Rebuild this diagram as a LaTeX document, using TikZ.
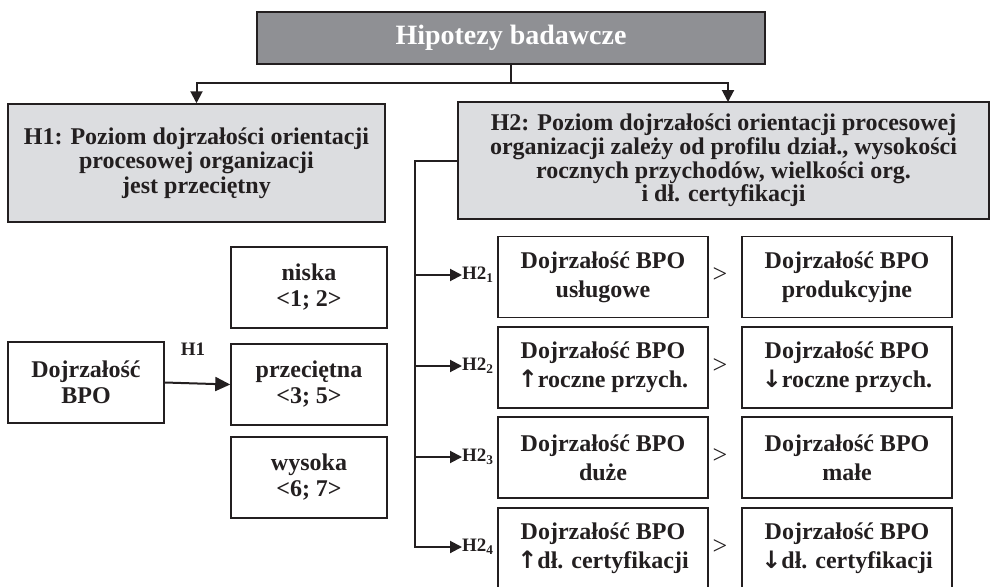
\documentclass[tikz,border=0pt]{standalone}
\usepackage{fontspec}
\setmainfont{Liberation Serif}
\newfontfamily\arrowfont{DejaVu Sans}
\usetikzlibrary{arrows.meta}
\definecolor{ink}{HTML}{231F20}
\definecolor{darkfill}{HTML}{8F9094}
\definecolor{lightfill}{HTML}{DCDDE0}
\newcommand{\upar}{{\arrowfont\bfseries\fontsize{24}{28}\selectfont ↑}}
\newcommand{\downar}{{\arrowfont\bfseries\fontsize{24}{28}\selectfont ↓}}
\begin{document}
\begin{tikzpicture}[x=1pt,y=-1pt,
  basebox/.style={draw=ink,line width=1.5pt,align=center,text=ink,inner sep=0pt,
    font=\fontsize{24}{29}\selectfont\bfseries},
  titlebox/.style={basebox,fill=darkfill,text=white,minimum width=508pt,minimum height=52pt,
    font=\fontsize{28}{30}\selectfont\bfseries},
  hypbox/.style={basebox,fill=lightfill,font=\fontsize{24}{24.5}\selectfont\bfseries},
  levelbox/.style={basebox,minimum width=156pt,minimum height=81pt,
    font=\fontsize{24}{26}\selectfont\bfseries},
  cmpbox/.style={basebox,minimum width=210pt,minimum height=81pt},
  hlabel/.style={text=ink,inner sep=0pt,font=\fontsize{19}{20}\selectfont\bfseries},
  gtlabel/.style={text=ink,inner sep=0pt,font=\fontsize{26}{28}\selectfont},
  conn/.style={draw=ink,line width=2pt},
  tipS/.style={-{Triangle[length=12pt,width=12pt]}},
  tipL/.style={-{Triangle[length=15pt,width=14pt]}}
]
\useasboundingbox (0,0) rectangle (990,586);

% title and hypotheses
\node[titlebox] (top) at (511,38) {Hipotezy badawcze};
\node[hypbox,minimum width=377pt,minimum height=118pt] (h1) at (196.5,163)
  {H1: Poziom dojrzałości orientacji\\procesowej organizacji\\jest przeciętny};
\node[hypbox,minimum width=531pt,minimum height=117pt,font=\fontsize{24}{23.5}\selectfont\bfseries] (h2) at (723.5,160.5)
  {H2: Poziom dojrzałości orientacji procesowej\\organizacji zależy od profilu dział., wysokości\\rocznych przychodów, wielkości org.\\i dł. certyfikacji};

\coordinate (jn) at (511,83);
\coordinate (h2in) at (728,102);
\draw[conn] (top.south) -- (jn);
\draw[conn,tipS] (jn) -| (h1.north);
\draw[conn,tipS] (jn) -| (h2in);

% left part
\node[levelbox] (dojr) at (86,382.5) {Dojrzałość\\BPO};
\node[levelbox] (niska) at (309,287.5) {niska\\<1; 2>};
\node[levelbox] (przec) at (309,384.5) {przeciętna\\<3; 5>};
\node[levelbox] (wys) at (309,477.5) {wysoka\\<6; 7>};
\draw[conn,tipL] (dojr.east) -- (przec.west);
\node[hlabel] (h1lab) at (193,349) {H1};

% right part: comparison rows
\node[cmpbox] (l1) at (603,277) {Dojrzałość BPO\\usługowe};
\node[cmpbox] (r1) at (847,277) {Dojrzałość BPO\\produkcyjne};
\node[cmpbox] (l2) at (603,367.5) {Dojrzałość BPO\\\upar{}roczne przych.};
\node[cmpbox] (r2) at (847,367.5) {Dojrzałość BPO\\\downar{}roczne przych.};
\node[cmpbox] (l3) at (603,457.5) {Dojrzałość BPO\\duże};
\node[cmpbox] (r3) at (847,457.5) {Dojrzałość BPO\\małe};
\node[cmpbox] (l4) at (603,548.5) {Dojrzałość BPO\\\upar{}dł. certyfikacji};
\node[cmpbox] (r4) at (847,548.5) {Dojrzałość BPO\\\downar{}dł. certyfikacji};

\node[gtlabel] (g1) at (720,275) {>};
\node[gtlabel] (g2) at (720,366) {>};
\node[gtlabel] (g3) at (720,456) {>};
\node[gtlabel] (g4) at (720,547) {>};

\node[hlabel,anchor=west] (lab1) at (462,275) {H2\textsubscript{1}};
\node[hlabel,anchor=west] (lab2) at (462,366) {H2\textsubscript{2}};
\node[hlabel,anchor=west] (lab3) at (462,457) {H2\textsubscript{3}};
\node[hlabel,anchor=west] (lab4) at (462,547) {H2\textsubscript{4}};

\coordinate (bus) at (415,547);
\draw[conn,tipS] (h2.west) -| (bus) -- (lab4.west);
\draw[conn,tipS] (bus |- lab1.west) -- (lab1.west);
\draw[conn,tipS] (bus |- lab2.west) -- (lab2.west);
\draw[conn,tipS] (bus |- lab3.west) -- (lab3.west);
\end{tikzpicture}
\end{document}
